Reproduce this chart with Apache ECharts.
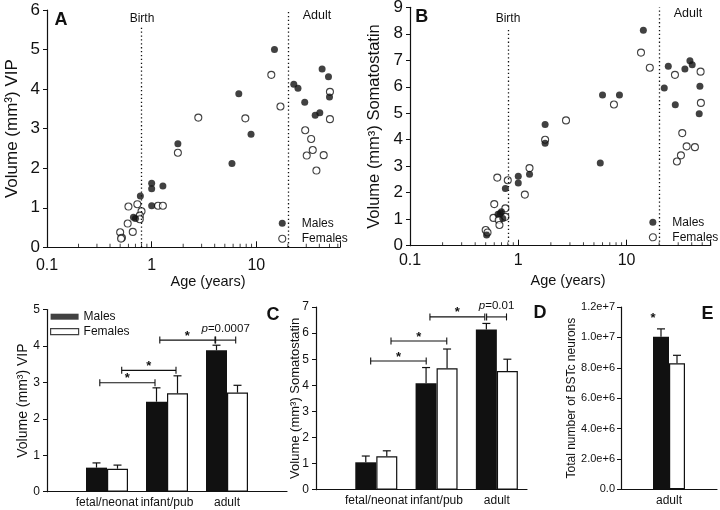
<!DOCTYPE html>
<html>
<head>
<meta charset="utf-8">
<title>BSTc VIP and somatostatin volume</title>
<script src="https://cdn.jsdelivr.net/npm/echarts@6.0.0/dist/echarts.min.js"></script>
</head>
<body style="margin:0;background:#fff">
<div id="main" style="width:720px;height:510px;"></div>
<script type="text/javascript">
var INK = '#111';
var FONT = "'Liberation Sans', Arial, sans-serif";

// A: VIP volume against age, [age (years), volume (mm3)]
var vipMales = [[14.9,5.0],[6.8,3.88],[8.9,2.86],[5.85,2.12],[1.78,2.62],[1.0,1.62],[1.0,1.48],[1.0,1.05],
    [1.28,1.55],[0.78,1.30],[0.67,0.76],[0.70,0.73],[22.8,4.12],[25,4.02],[29,3.67],[42.5,4.51],
    [48.9,4.31],[36.5,3.34],[40.4,3.40],[50,3.80]];
var vipFemales = [[13.9,4.36],[17,3.56],[7.85,3.26],[2.79,3.28],[1.78,2.39],[1.15,1.05],[1.28,1.05],[0.6,1.03],
    [0.73,1.09],[0.80,0.91],[0.77,0.80],[0.77,0.71],[0.59,0.60],[0.66,0.39],[0.50,0.38],[0.52,0.24],
    [0.51,0.22],[50.5,3.93],[50.5,3.24],[29.3,2.96],[33.4,2.74],[34.6,2.46],[30.3,2.32],[44,2.33],[37.5,1.94]];

// B: somatostatin volume against age
var sstMales = [[14.3,8.13],[6.0,5.69],[8.6,5.69],[5.72,3.12],[1.77,4.58],[1.77,3.87],[1.0,2.62],[1.0,2.37],
    [1.27,2.70],[0.76,2.16],[0.68,1.22],[0.70,1.28],[0.65,1.19],[0.72,1.03],[0.51,0.40],[22.3,5.95],
    [24.3,6.77],[28.2,5.32],[34.6,6.67],[38.5,6.98],[40.4,6.83],[47.6,6.02],[46.9,4.98]];
var sstFemales = [[13.6,7.29],[16.4,6.72],[7.65,5.33],[2.76,4.73],[1.77,4.0],[1.27,2.93],[1.15,1.93],[0.64,2.57],
    [0.80,2.47],[0.60,1.57],[0.59,1.05],[0.76,1.41],[0.76,1.09],[0.66,0.97],[0.67,0.78],[0.50,0.59],
    [0.52,0.50],[28,6.45],[48.3,6.57],[48.6,5.39],[32.7,4.25],[35.9,3.75],[42.8,3.72],[31.8,3.41],[29.2,3.18]];

var birthAge = 0.8;
var adultAge = 20;
var ageMinorTicks = [0.2,0.3,0.4,0.5,0.6,0.7,0.8,0.9,2,3,4,5,6,7,8,9,20,30,40,50,60];

// C, D: group means and SEM
var ageGroups = ['fetal/neonat', 'infant/pub', 'adult'];
var vipBarMales = [0.66, 2.47, 3.88];
var vipSemMales = [0.13, 0.38, 0.14];
var vipBarFemales = [0.63, 2.70, 2.72];
var vipSemFemales = [0.10, 0.48, 0.20];
var sstBarMales = [1.05, 4.08, 6.14];
var sstSemMales = [0.24, 0.60, 0.23];
var sstBarFemales = [1.28, 4.65, 4.55];
var sstSemFemales = [0.21, 0.74, 0.45];

// E: BSTc neuron number in adults
var bstcGroups = ['adult'];
var bstcMales = [1.004e7];
var bstcSemMales = [0.052e7];
var bstcFemales = [8.29e6];
var bstcSemFemales = [0.53e6];
var bstcStar = 1.125e7;

// comparison brackets [from group, to group, height] and their marks
var vipBrackets = [[0.88, 1.80, 2.99], [1.245, 2.15, 3.33], [1.88, 2.80, 4.16], [2.81, 3.145, 4.16]];
var vipMarks = ['*', '*', '*', 'p=0.0007'];
var sstBrackets = [[0.907, 1.828, 4.93], [1.244, 2.169, 5.70], [1.89, 2.80, 6.62], [2.83, 3.16, 6.62]];
var sstMarks = ['*', '*', '*', 'p=0.01'];

function groupPoints(vals) {
    return vals.map(function (v, i) { return [i + 1, v]; });
}
function errPoints(vals, sems, firstX) {
    return vals.map(function (v, i) { return [i + firstX, v, v + sems[i]]; });
}

function errorBars(offset) {
    return function (params, api) {
        var base = api.coord([api.value(0), api.value(1)]);
        var top = api.coord([api.value(0), api.value(2)]);
        var x = base[0] + offset;
        var st = {stroke: INK, lineWidth: 1.2};
        return {type: 'group', children: [
            {type: 'line', shape: {x1: x, y1: base[1], x2: x, y2: top[1]}, style: st},
            {type: 'line', shape: {x1: x - 4, y1: top[1], x2: x + 4, y2: top[1]}, style: st}
        ]};
    };
}

function brackets(marks) {
    return function (params, api) {
        var a = api.coord([api.value(0), api.value(2)]);
        var b = api.coord([api.value(1), api.value(2)]);
        var mark = marks[params.dataIndex];
        var isP = mark.charAt(0) === 'p';
        var st = {stroke: INK, lineWidth: 1.1};
        return {type: 'group', children: [
            {type: 'line', shape: {x1: a[0], y1: a[1], x2: b[0], y2: b[1]}, style: st},
            {type: 'line', shape: {x1: a[0], y1: a[1] - 3.5, x2: a[0], y2: a[1] + 3.5}, style: st},
            {type: 'line', shape: {x1: b[0], y1: b[1] - 3.5, x2: b[0], y2: b[1] + 3.5}, style: st},
            {type: 'text', x: (a[0] + b[0]) / 2, y: a[1] - (isP ? 11.5 : 4), style: {
                text: isP ? '{i|p}' + mark.slice(1) : mark,
                align: 'center', verticalAlign: 'middle',
                fontSize: isP ? 11.5 : 13, fontWeight: isP ? 'normal' : 'bold', fontFamily: FONT, fill: INK,
                rich: {i: {fontStyle: 'italic', fontSize: 11.5, fontFamily: FONT, fill: INK}}
            }}
        ]};
    };
}

function ageLabel(v) {
    var lg = Math.log(v) / Math.LN10;
    return Math.abs(lg - Math.round(lg)) < 1e-6 ? String(+v.toPrecision(1)) : '';
}

function ageAxis(grid, max, gap, shift, margin) {
    return {
        type: 'log', logBase: 10, gridIndex: grid, min: 0.1, max: max,
        name: 'Age (years)', nameLocation: 'middle', nameGap: gap, nameMoveOverlap: false,
        nameTextStyle: {fontFamily: FONT, fontSize: 14.5, color: INK, padding: [0, 0, 0, shift]},
        axisLine: {lineStyle: {color: INK, width: 1.2}},
        axisTick: {inside: true, length: 6, lineStyle: {color: INK}},
        axisLabel: {fontFamily: FONT, fontSize: 16, color: INK, margin: margin, formatter: ageLabel},
        splitLine: {show: false}
    };
}

function volAxis(grid, max, name, size, gap, labelSize) {
    return {
        type: 'value', gridIndex: grid, min: 0, max: max, interval: 1,
        name: name, nameLocation: 'middle', nameRotate: 90, nameGap: gap, nameMoveOverlap: false,
        nameTextStyle: {fontFamily: FONT, fontSize: size, color: INK},
        axisLine: {show: true, lineStyle: {color: INK, width: 1.2}},
        axisTick: {show: true, length: 4, lineStyle: {color: INK}},
        axisLabel: {fontFamily: FONT, fontSize: labelSize, color: INK, margin: 7},
        splitLine: {show: false}
    };
}

function groupAxis(grid, max) {
    return {
        type: 'value', gridIndex: grid, min: 0, max: max, interval: 1,
        axisLine: {lineStyle: {color: INK, width: 1.2}},
        axisTick: {show: false},
        axisLabel: {fontFamily: FONT, fontSize: 12, color: INK, margin: 5,
            formatter: function (v) { return ageGroups[v - 1] || ''; }},
        splitLine: {show: false}
    };
}

var male = {color: INK};
var female = {color: '#fff', borderColor: INK, borderWidth: 1.1};
var dotted = {color: INK, width: 1.3, type: [1.3, 2.6]};

function scatterPair(xi, fem, mal, birthTop, adultTop) {
    return [
        {type: 'scatter', name: 'Females', xAxisIndex: xi, yAxisIndex: xi, data: fem, symbolSize: 7,
            itemStyle: female,
            markLine: {silent: true, symbol: ['none', 'none'], label: {show: false}, lineStyle: dotted,
                data: [[{coord: [birthAge, 0]}, {coord: [birthAge, birthTop]}],
                       [{coord: [adultAge, 0]}, {coord: [adultAge, adultTop]}]]}},
        {type: 'scatter', name: 'Males', xAxisIndex: xi, yAxisIndex: xi, data: mal, symbolSize: 7,
            itemStyle: male},
        {type: 'scatter', name: 'ticks', xAxisIndex: xi, yAxisIndex: xi, silent: true, clip: false,
            data: ageMinorTicks.map(function (v) { return [v, 0]; }),
            symbol: 'rect', symbolSize: [1, 3.5], symbolOffset: [0, -1.75], itemStyle: {color: INK}}
    ];
}

function barPair(xi, mVals, mSem, fVals, fSem, width, firstX, asGroups) {
    var mData = asGroups ? groupPoints(mVals) : mVals;
    var fData = asGroups ? groupPoints(fVals) : fVals;
    return [
        {type: 'bar', name: 'Males', xAxisIndex: xi, yAxisIndex: xi, data: mData, barWidth: width,
            barGap: '0%', itemStyle: male},
        {type: 'bar', name: 'Females', xAxisIndex: xi, yAxisIndex: xi, data: fData, barWidth: width,
            barGap: '0%', itemStyle: {color: '#fff', borderColor: INK, borderWidth: 1.2}},
        {type: 'custom', xAxisIndex: xi, yAxisIndex: xi, silent: true, encode: {x: 0, y: [1, 2]},
            data: errPoints(mVals, mSem, firstX), renderItem: errorBars(-width / 2), z: 5},
        {type: 'custom', xAxisIndex: xi, yAxisIndex: xi, silent: true, encode: {x: 0, y: [1, 2]},
            data: errPoints(fVals, fSem, firstX), renderItem: errorBars(width / 2), z: 5}
    ];
}

function label(x, y, text, font) {
    return {type: 'text', x: x, y: y, silent: true,
        style: {text: text, font: font, fill: INK, align: 'center', verticalAlign: 'middle'}};
}

var chart = echarts.init(document.getElementById('main'));

var bstcSeries = barPair(4, bstcMales, bstcSemMales, bstcFemales, bstcSemFemales, 16, 0, false);
// star over the adult male bar in E
bstcSeries[0].markPoint = {
    silent: true, symbol: 'circle', symbolSize: 0,
    label: {show: true, position: 'inside', formatter: '*', fontSize: 13, fontWeight: 'bold',
        fontFamily: FONT, color: INK, offset: [-8, 0]},
    data: [{coord: [0, bstcStar]}]
};

var series = []
    .concat(scatterPair(0, vipFemales, vipMales, 5.55, 6))
    .concat(scatterPair(1, sstFemales, sstMales, 8.15, 9))
    .concat(barPair(2, vipBarMales, vipSemMales, vipBarFemales, vipSemFemales, 21, 1, true))
    .concat(barPair(3, sstBarMales, sstSemMales, sstBarFemales, sstSemFemales, 21, 1, true))
    .concat(bstcSeries);

series.push(
    {type: 'custom', xAxisIndex: 2, yAxisIndex: 2, silent: true, data: vipBrackets,
        encode: {x: [0, 1], y: 2}, renderItem: brackets(vipMarks)},
    {type: 'custom', xAxisIndex: 3, yAxisIndex: 3, silent: true, data: sstBrackets,
        encode: {x: [0, 1], y: 2}, renderItem: brackets(sstMarks)}
);

var legendText = {fontFamily: FONT, fontSize: 12, color: INK, lineHeight: 15, padding: [0, 0, 0, 11]};

var option = {
    animation: false,
    backgroundColor: '#fff',
    textStyle: {fontFamily: FONT, color: INK},
    grid: [
        {left: 47, top: 10, width: 293, height: 237.3, outerBoundsMode: 'none'},
        {left: 410, top: 7.3, width: 300, height: 238.4, outerBoundsMode: 'none'},
        {left: 47, top: 309.5, width: 240, height: 182.2, outerBoundsMode: 'none'},
        {left: 316, top: 307, width: 211, height: 182.7, outerBoundsMode: 'none'},
        {left: 621, top: 307, width: 96, height: 182.3, outerBoundsMode: 'none'}
    ],
    xAxis: [
        ageAxis(0, 63, 27, 29, 10),
        ageAxis(1, 59, 28, 16, 7),
        groupAxis(2, 4),
        groupAxis(3, 3.5),
        {type: 'category', gridIndex: 4, data: bstcGroups,
            axisLine: {lineStyle: {color: INK, width: 1.2}}, axisTick: {show: false},
            axisLabel: {fontFamily: FONT, fontSize: 12, color: INK, margin: 5}}
    ],
    yAxis: [
        volAxis(0, 6, 'Volume (mm\u00b3) VIP', 17, 26, 17),
        volAxis(1, 9, 'Volume (mm\u00b3) Somatostatin', 16.5, 27, 17),
        volAxis(2, 5, 'Volume (mm\u00b3) VIP', 14, 17, 12),
        volAxis(3, 7, 'Volume (mm\u00b3) Somatostatin', 13, 14, 12),
        {type: 'value', gridIndex: 4, min: 0, max: 1.2e7, interval: 2e6,
            name: 'Total number of BSTc neurons', nameLocation: 'middle', nameRotate: 90, nameGap: 43,
            nameMoveOverlap: false, nameTextStyle: {fontFamily: FONT, fontSize: 12, color: INK},
            axisLine: {show: true, lineStyle: {color: INK, width: 1.2}},
            axisTick: {show: true, length: 4, lineStyle: {color: INK}},
            axisLabel: {fontFamily: FONT, fontSize: 11, color: INK, margin: 6,
                formatter: function (v) { return v === 0 ? '0.0' : v.toExponential(1); }},
            splitLine: {show: false}}
    ],
    legend: [
        {left: 278.2, top: 215.8, orient: 'vertical', padding: 0, itemGap: 0.4, itemWidth: 7, itemHeight: 7,
            icon: 'circle', selectedMode: false, textStyle: legendText,
            data: [{name: 'Males', itemStyle: male}, {name: 'Females', itemStyle: female}]},
        {left: 648.8, top: 214.8, orient: 'vertical', padding: 0, itemGap: 0, itemWidth: 7, itemHeight: 7,
            icon: 'circle', selectedMode: false, textStyle: legendText,
            data: [{name: 'Males', itemStyle: male}, {name: 'Females', itemStyle: female}]},
        {left: 50, top: 309.2, orient: 'vertical', padding: 0, itemGap: 0, itemWidth: 28, itemHeight: 6,
            icon: 'rect', selectedMode: false,
            textStyle: {fontFamily: FONT, fontSize: 12, color: INK, lineHeight: 15},
            data: [{name: 'Males', itemStyle: male},
                   {name: 'Females', itemStyle: {color: '#fff', borderColor: INK, borderWidth: 1.2}}]}
    ],
    graphic: [
        label(61, 19.7, 'A', 'bold 18px ' + FONT),
        label(421.7, 17.5, 'B', 'bold 18px ' + FONT),
        label(273, 315, 'C', 'bold 18px ' + FONT),
        label(540, 313, 'D', 'bold 18px ' + FONT),
        label(707.5, 313.8, 'E', 'bold 18px ' + FONT),
        label(142, 19, 'Birth', '12px ' + FONT),
        label(317, 16, 'Adult', '12.5px ' + FONT),
        label(508, 19, 'Birth', '12px ' + FONT),
        label(688, 14, 'Adult', '12.5px ' + FONT)
    ],
    series: series
};

chart.setOption(option);
</script>
</body>
</html>
